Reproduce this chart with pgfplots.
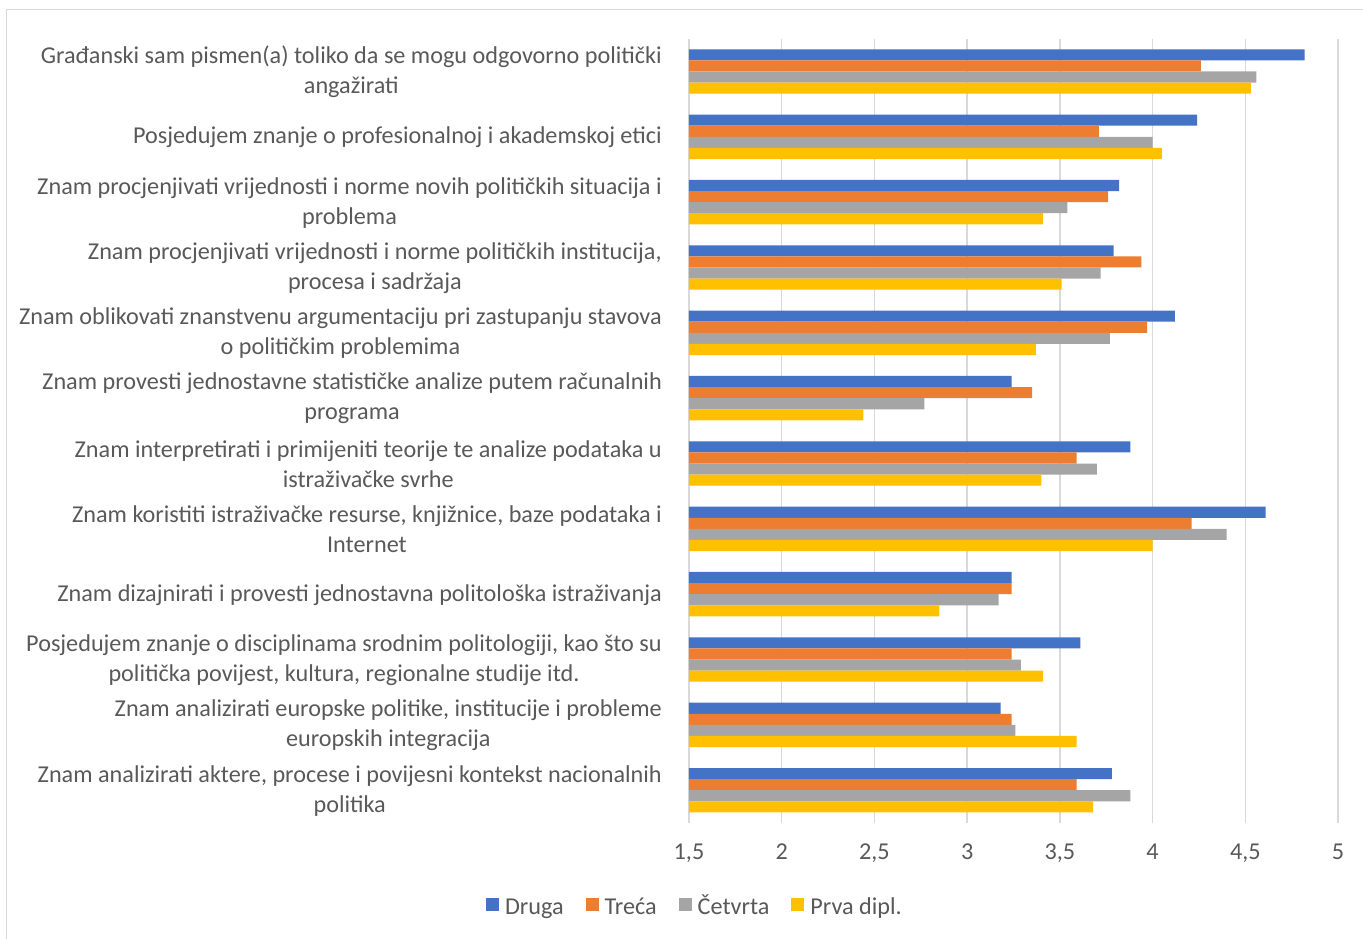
\documentclass[border=0pt]{standalone}
\usepackage{fontspec}
\setmainfont{Carlito}
\usepackage{pgfplots}
\pgfplotsset{compat=1.18}
\definecolor{cDruga}{HTML}{4472C4}
\definecolor{cTreca}{HTML}{ED7D31}
\definecolor{cCetvrta}{HTML}{A5A5A5}
\definecolor{cPrva}{HTML}{FFC000}
\definecolor{txt}{HTML}{595959}
\definecolor{gridc}{HTML}{D9D9D9}
\begin{document}
\begin{tikzpicture}[x=1pt,y=1pt]
\useasboundingbox (0,0) rectangle (1363,939);
\draw[gridc, line width=1.5pt] (6.5,-10) -- (6.5,929.5) -- (1380,929.5);
\begin{axis}[
  at={(689pt,116.1pt)}, anchor=south west,
  scale only axis, width=649pt, height=784.1pt,
  xmin=1.5, xmax=5, ymin=-0.5, ymax=11.5,
  xtick={1.5,2,2.5,3,3.5,4,4.5,5},
  xticklabels={{1,5},2,{2,5},3,{3,5},4,{4,5},5},
  ytick={0,...,11},
  yticklabels={
    {Znam analizirati aktere, procese i povijesni kontekst nacionalnih\\politika},
    {Znam analizirati europske politike, institucije i probleme\\europskih integracija},
    {Posjedujem znanje o disciplinama srodnim politologiji, kao što su\\politička povijest, kultura, regionalne studije itd.},
    {Znam dizajnirati i provesti jednostavna politološka istraživanja},
    {Znam koristiti istraživačke resurse, knjižnice, baze podataka i\\Internet},
    {Znam interpretirati i primijeniti teorije te analize podataka u\\istraživačke svrhe},
    {Znam provesti jednostavne statističke analize putem računalnih\\programa},
    {Znam oblikovati znanstvenu argumentaciju pri zastupanju stavova\\o političkim problemima},
    {Znam procjenjivati vrijednosti i norme političkih institucija,\\procesa i sadržaja},
    {Znam procjenjivati vrijednosti i norme novih političkih situacija i\\problema},
    {Posjedujem znanje o profesionalnoj i akademskoj etici},
    {Građanski sam pismen(a) toliko da se mogu odgovorno politički\\angažirati}
  },
  axis line style={draw=none},
  major tick length=0pt,
  xmajorgrids, grid style={gridc, line width=1.5pt},
  yticklabel style={anchor=east, align=center, inner sep=0pt, xshift=-27pt, yshift=-0.5pt, font=\fontsize{24.2}{30}\selectfont, text=txt},
  xticklabel style={anchor=north, inner sep=0pt, yshift=-21pt, font=\fontsize{24.2}{30}\selectfont, text=txt},
  xbar, bar width=11.1pt,
  legend style={at={(0.0092,-0.1095)}, anchor=center, draw=none, legend columns=-1,
    font=\fontsize{24.2}{30}\selectfont, text=txt,
    nodes={text height=17pt, text depth=5pt},
    /tikz/every odd column/.append style={column sep=4pt},
    /tikz/every even column/.append style={column sep=20pt}},
  legend image code/.code={\fill[#1] (0pt,-2.5pt) rectangle (13pt,10.5pt);},
]
\addplot[fill=cDruga, draw=none, bar shift=16.65pt] coordinates {
(3.78,0) (3.18,1) (3.61,2) (3.24,3) (4.61,4) (3.88,5) (3.24,6) (4.12,7) (3.79,8) (3.82,9) (4.24,10) (4.82,11)};
\addlegendentry{Druga}
\addplot[fill=cTreca, draw=none, bar shift=5.55pt] coordinates {
(3.59,0) (3.24,1) (3.24,2) (3.24,3) (4.21,4) (3.59,5) (3.35,6) (3.97,7) (3.94,8) (3.76,9) (3.71,10) (4.26,11)};
\addlegendentry{Treća}
\addplot[fill=cCetvrta, draw=none, bar shift=-5.55pt] coordinates {
(3.88,0) (3.26,1) (3.29,2) (3.17,3) (4.40,4) (3.70,5) (2.77,6) (3.77,7) (3.72,8) (3.54,9) (4.00,10) (4.56,11)};
\addlegendentry{Četvrta}
\addplot[fill=cPrva, draw=none, bar shift=-16.65pt] coordinates {
(3.68,0) (3.59,1) (3.41,2) (2.85,3) (4.00,4) (3.40,5) (2.44,6) (3.37,7) (3.51,8) (3.41,9) (4.05,10) (4.53,11)};
\addlegendentry{Prva dipl.}
\end{axis}
\end{tikzpicture}
\end{document}
